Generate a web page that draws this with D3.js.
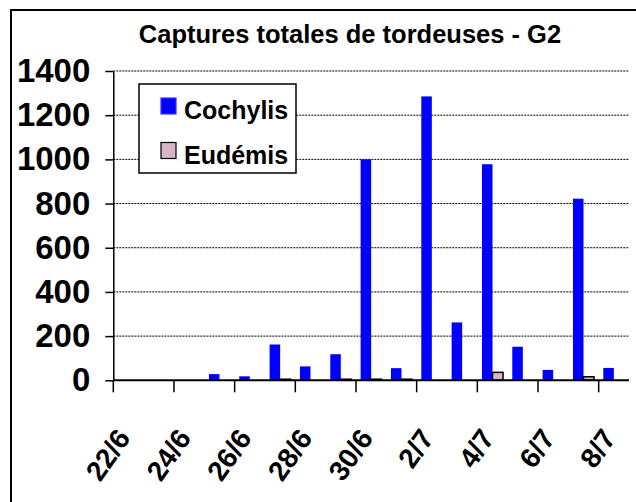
<!DOCTYPE html>
<html>
<head>
<meta charset="utf-8">
<script src="https://cdn.jsdelivr.net/npm/d3@7"></script>
<style>
  body { margin: 0; background: #fff; }
  svg { display: block; font-family: "Liberation Sans", Arial, sans-serif; font-weight: bold; }
</style>
</head>
<body>
<svg id="chart" width="636" height="502"></svg>
<script>
// data
const dates = ["22/6","23/6","24/6","25/6","26/6","27/6","28/6","29/6","30/6",
               "1/7","2/7","3/7","4/7","5/7","6/7","7/7","8/7"];
const cochylis = [0, 0, 0, 28, 18, 162, 63, 118, 1000, 55, 1285, 262, 978, 152, 47, 822, 56];
const eudemis  = [0, 0, 0, 0, 0, 5, 0, 5, 5, 5, 0, 0, 36, 0, 0, 16, 0];
const seriesNames = ["Cochylis", "Eudémis"];
const seriesColors = ["#0000ff", "#d8b4c8"];
const yTicks = [0, 200, 400, 600, 800, 1000, 1200, 1400];
const shownDates = dates.filter((d, i) => i % 2 === 0);

const svg = d3.select("#chart");

// outer frame (runs off the right and bottom edges)
svg.append("rect")
    .attr("x", 11).attr("y", 10)
    .attr("width", 640).attr("height", 500)
    .attr("fill", "#fff")
    .attr("stroke", "#000")
    .attr("stroke-width", 2);

const plot = {left: 113.3, right: 629, top: 71, bottom: 380.3};

const x0 = d3.scaleBand().domain(dates).range([plot.left, plot.right]);
const x1 = d3.scaleBand().domain(seriesNames).range([0, x0.bandwidth()])
    .paddingInner(0).paddingOuter(0.44);
const y = d3.scaleLinear().domain([0, 1400]).range([plot.bottom, plot.top]);

// title
svg.append("text")
    .attr("x", 350).attr("y", 43)
    .attr("text-anchor", "middle")
    .style("font-size", "25.5px")
    .text("Captures totales de tordeuses - G2");

// gridlines
svg.append("g").attr("class", "grid")
  .selectAll("line")
  .data(yTicks.filter(d => d > 0))
  .join("line")
    .attr("x1", plot.left).attr("x2", plot.right)
    .attr("y1", d => y(d)).attr("y2", d => y(d))
    .attr("stroke", "#000")
    .attr("stroke-width", 1)
    .attr("stroke-dasharray", "2,1");

// y axis
const yAxis = svg.append("g")
    .attr("transform", "translate(" + plot.left + ",0)")
    .call(d3.axisLeft(y).tickValues(yTicks).tickFormat(d3.format("d"))
      .tickSize(8).tickSizeOuter(0).tickPadding(15));
yAxis.select(".domain").attr("stroke-width", 1.5);
yAxis.selectAll(".tick line").attr("stroke-width", 1.5);
yAxis.selectAll(".tick text")
    .attr("fill", "#000")
    .style("font-size", "33px")
    .style("font-family", "'Liberation Sans', Arial, sans-serif")
    .style("font-weight", "bold");

// bars
const rows = dates.map((d, i) => ({date: d, values: [cochylis[i], eudemis[i]]}));
const groups = svg.append("g").attr("class", "bars")
  .selectAll("g")
  .data(rows)
  .join("g")
    .attr("transform", d => "translate(" + x0(d.date) + ",0)");

groups.selectAll("rect")
  .data(d => d.values.map((v, k) => ({name: seriesNames[k], value: v, k: k})))
  .join("rect")
    .filter(d => d.value > 0)
    .attr("x", d => x1(d.name))
    .attr("width", x1.bandwidth())
    .attr("y", d => y(d.value))
    .attr("height", d => y(0) - y(d.value))
    .attr("fill", d => seriesColors[d.k])
    .attr("stroke", d => d.k === 1 ? "#000" : "none")
    .attr("stroke-width", 1.5);

// x axis line and ticks (every second day)
svg.append("line")
    .attr("x1", plot.left).attr("x2", plot.right)
    .attr("y1", plot.bottom).attr("y2", plot.bottom)
    .attr("stroke", "#000").attr("stroke-width", 2);

svg.append("g").attr("class", "xticks")
  .selectAll("line")
  .data(shownDates)
  .join("line")
    .attr("x1", d => x0(d)).attr("x2", d => x0(d))
    .attr("y1", plot.bottom).attr("y2", plot.bottom + 12)
    .attr("stroke", "#000").attr("stroke-width", 1.5);

svg.append("g").attr("class", "xlabels")
  .selectAll("text")
  .data(shownDates)
  .join("text")
    .attr("transform", d => "translate(" + (x0(d) + x0.bandwidth() / 2 + 3) + ",438) rotate(-55)")
    .attr("text-anchor", "end")
    .style("font-size", "28px")
    .text(d => d);

// legend
const legend = svg.append("g").attr("transform", "translate(139,84)");
legend.append("rect")
    .attr("width", 157).attr("height", 89)
    .attr("fill", "#fff").attr("stroke", "#000").attr("stroke-width", 1.5);

const items = legend.selectAll("g.item")
  .data(seriesNames)
  .join("g")
    .attr("class", "item")
    .attr("transform", (d, i) => "translate(22," + (14 + i * 44.5) + ")");
items.append("rect")
    .attr("width", 15).attr("height", 16)
    .attr("fill", (d, i) => seriesColors[i])
    .attr("stroke", (d, i) => i === 1 ? "#000" : "#3030ff")
    .attr("stroke-width", 1.2);
items.append("text")
    .attr("x", 23).attr("y", 21)
    .style("font-size", "25px")
    .text(d => d);
</script>
</body>
</html>
